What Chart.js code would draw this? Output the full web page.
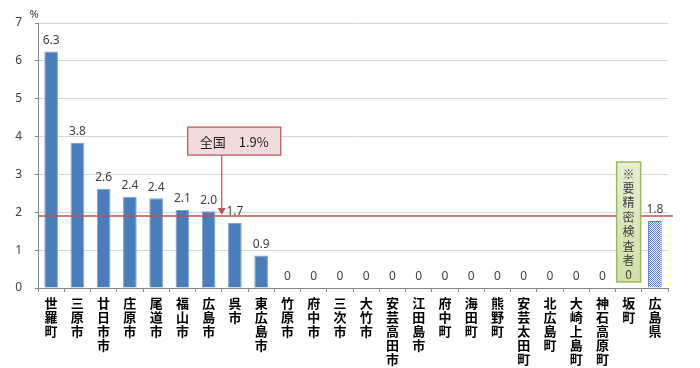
<!DOCTYPE html>
<html lang="ja">
<head>
<meta charset="utf-8">
<title>要精密検査者の割合</title>
<script src="https://cdn.jsdelivr.net/npm/chart.js@4.4.1/dist/chart.umd.min.js"></script>
<style>
    html, body { margin: 0; padding: 0; background: #fff; }
    #wrap { width: 700px; height: 368px; }
</style>
</head>
<body>
<div id="wrap"><canvas id="bar_chart" width="700" height="368"></canvas></div>
<script>
// 市町名
var areaNames = ['世羅町', '三原市', '廿日市市', '庄原市', '尾道市', '福山市', '広島市', '呉市', '東広島市',
    '竹原市', '府中市', '三次市', '大竹市', '安芸高田市', '江田島市', '府中町', '海田町', '熊野町',
    '安芸太田町', '北広島町', '大崎上島町', '神石高原町', '坂町', '広島県'];
// 割合 (%)
var rateValues = [6.25, 3.83, 2.62, 2.41, 2.37, 2.06, 2.03, 1.72, 0.86,
    0, 0, 0, 0, 0, 0, 0, 0, 0, 0, 0, 0, 0, 0, 1.77];
// 棒の上の数値
var rateLabels = ['6.3', '3.8', '2.6', '2.4', '2.4', '2.1', '2.0', '1.7', '0.9',
    '0', '0', '0', '0', '0', '0', '0', '0', '0', '0', '0', '0', '0', '', '1.8'];
var yTicks = [0, 1, 2, 3, 4, 5, 6, 7];
var nationalRate = 1.9;
var nationalText = '全国　1.9%';
var noteChars = ['※', '要', '精', '密', '検', '査', '者', '0'];
var noteIndex = 22;
var prefIndex = 23;

(function () {
    var ctx = document.getElementById('bar_chart').getContext('2d')

    // 広島県の棒は網かけ
    function makePattern() {
        var c = document.createElement('canvas')
        c.width = 2
        c.height = 2
        var p = c.getContext('2d')
        p.fillStyle = '#ffffff'
        p.fillRect(0, 0, 2, 2)
        p.fillStyle = '#4f81bd'
        p.fillRect(0, 0, 1, 1)
        p.fillRect(1, 1, 1, 1)
        return ctx.createPattern(c, 'repeat')
    }

    var barColors = rateValues.map(function (v, i) {
        return i == prefIndex ? makePattern() : '#4a7ebb'
    })
    var borderColors = rateValues.map(function (v, i) {
        return i == prefIndex ? '#4f81bd' : '#7ea3d1'
    })

    var overlayPlugin = {
        id: 'overlay',
        afterDatasetsDraw: function (chart) {
            var c = chart.ctx
            var area = chart.chartArea
            var ys = chart.scales.y
            var bars = chart.getDatasetMeta(0).data
            c.save()

            // 数値ラベル
            c.font = '12px "Noto Sans"'
            c.fillStyle = '#404040'
            c.textAlign = 'center'
            c.textBaseline = 'bottom'
            bars.forEach(function (bar, i) {
                if (!rateLabels[i]) return
                c.fillText(rateLabels[i], bar.x, bar.y - 5)
            })

            // 単位
            c.font = '11px "Noto Sans"'
            c.fillText('%', 34, 20)

            // 全国ライン
            var lineY = ys.getPixelForValue(nationalRate)
            c.strokeStyle = '#c0504d'
            c.lineWidth = 1.5
            c.beginPath()
            c.moveTo(area.left, lineY)
            c.lineTo(area.right + 5, lineY)
            c.stroke()

            // 全国の吹き出し
            var arrowX = (bars[6].x + bars[7].x) / 2
            var boxW = 93, boxH = 28
            var boxL = arrowX - 34
            var boxT = lineY - 61 - boxH
            c.fillStyle = '#f2dcdb'
            c.fillRect(boxL, boxT, boxW, boxH)
            c.lineWidth = 1.2
            c.strokeRect(boxL, boxT, boxW, boxH)
            c.beginPath()
            c.moveTo(arrowX, boxT + boxH)
            c.lineTo(arrowX, lineY - 5)
            c.stroke()
            c.fillStyle = '#c0504d'
            c.beginPath()
            c.moveTo(arrowX - 4, lineY - 8)
            c.lineTo(arrowX + 4, lineY - 8)
            c.lineTo(arrowX, lineY - 1)
            c.closePath()
            c.fill()
            c.fillStyle = '#1a1a1a'
            c.font = '13px "Noto Sans CJK JP"'
            c.textBaseline = 'middle'
            c.fillText(nationalText, boxL + boxW / 2, boxT + boxH / 2 + 1)

            // 坂町の注記
            var nx = bars[noteIndex].x
            var nb = ys.getPixelForValue(0) - 6
            var nh = 120
            var grad = c.createLinearGradient(0, nb - nh, 0, nb)
            grad.addColorStop(0, '#e6efd2')
            grad.addColorStop(1, '#cfe0a6')
            c.fillStyle = grad
            c.fillRect(nx - 12, nb - nh, 24, nh)
            c.strokeStyle = '#9bbb59'
            c.lineWidth = 1.5
            c.strokeRect(nx - 12, nb - nh, 24, nh)
            c.fillStyle = '#404040'
            c.font = '12px "Noto Sans CJK JP"'
            noteChars.forEach(function (ch, i) {
                c.fillText(ch, nx, nb - nh + 12 + i * 14.4)
            })

            c.restore()
        }
    }

    new Chart(ctx, {
        type: 'bar',
        data: {
            labels: areaNames.map(function (n) { return n.split('') }),
            datasets: [{
                data: rateValues,
                backgroundColor: barColors,
                borderColor: borderColors,
                borderWidth: 1,
                barPercentage: 0.52,
                categoryPercentage: 1
            }]
        },
        options: {
            responsive: false,
            animation: false,
            layout: { padding: { top: 23, right: 32, left: 0, bottom: 0 } },
            plugins: {
                legend: { display: false },
                tooltip: { enabled: false }
            },
            scales: {
                x: {
                    afterFit: function (scale) { scale.height = 80 },
                    border: { color: '#868686', width: 1 },
                    grid: { offset: true, drawOnChartArea: false, drawTicks: true, tickLength: 4, color: '#868686' },
                    ticks: {
                        autoSkip: false,
                        maxRotation: 0,
                        minRotation: 0,
                        padding: 4,
                        color: '#000000',
                        font: { family: '"Noto Sans CJK JP"', size: 13, weight: 'bold', lineHeight: 1.08 }
                    }
                },
                y: {
                    min: 0,
                    max: 7,
                    afterFit: function (scale) { scale.width = 38 },
                    afterBuildTicks: function (scale) {
                        scale.ticks = yTicks.map(function (v) { return { value: v } })
                    },
                    border: { color: '#868686', width: 1 },
                    grid: { color: '#d4d4d4', drawTicks: true, tickLength: 3, tickColor: '#868686' },
                    ticks: {
                        padding: 13,
                        color: '#404040',
                        font: { family: '"Noto Sans"', size: 12 }
                    }
                }
            }
        },
        plugins: [overlayPlugin]
    })
}());
</script>
</body>
</html>
